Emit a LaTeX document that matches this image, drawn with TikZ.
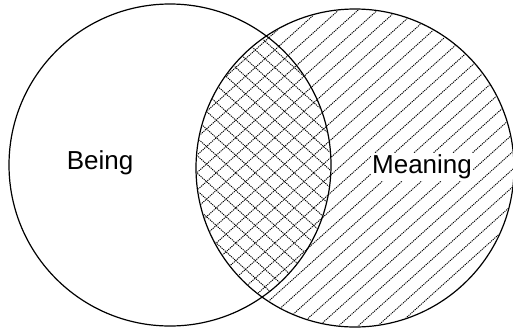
\documentclass[tikz,border=0pt]{standalone}
\usepackage{fontspec}
\setmainfont{Liberation Sans}
\begin{document}
\begin{tikzpicture}[x=1pt,y=-1pt,
  ring/.style={circle,draw,line width=1.2pt,inner sep=0pt},
  hatch/.style={line width=0.9pt,dash pattern=on 1.2pt off 0.9pt},
  lbl/.style={font=\fontsize{26}{30}\selectfont,inner sep=1.5pt}]
\useasboundingbox (0,0) rectangle (513,330);
\coordinate (L) at (170,165);
\coordinate (R) at (355,168);
% hatching in right circle
\begin{scope}
  \clip (R) circle (158pt);
  \foreach \i in {-25,...,25}
    \draw[hatch] (436.1+19.5*\i-200,348) -- ++(400,-360);
\end{scope}
% cross hatching in intersection
\begin{scope}
  \clip (R) circle (158pt);
  \clip (L) circle (160pt);
  \foreach \i in {-25,...,25}
    \draw[hatch] (288.9+19.5*\i-200,-12) -- ++(400,360);
\end{scope}
\node[ring,minimum size=322pt] (being) at (L) {};
\node[ring,minimum size=318pt] (meaning) at (R) {};
\node[lbl] (tb) at (100,163) {Being};
\node[lbl,fill=white] (tm) at (422,167) {Meaning};
\end{tikzpicture}
\end{document}
